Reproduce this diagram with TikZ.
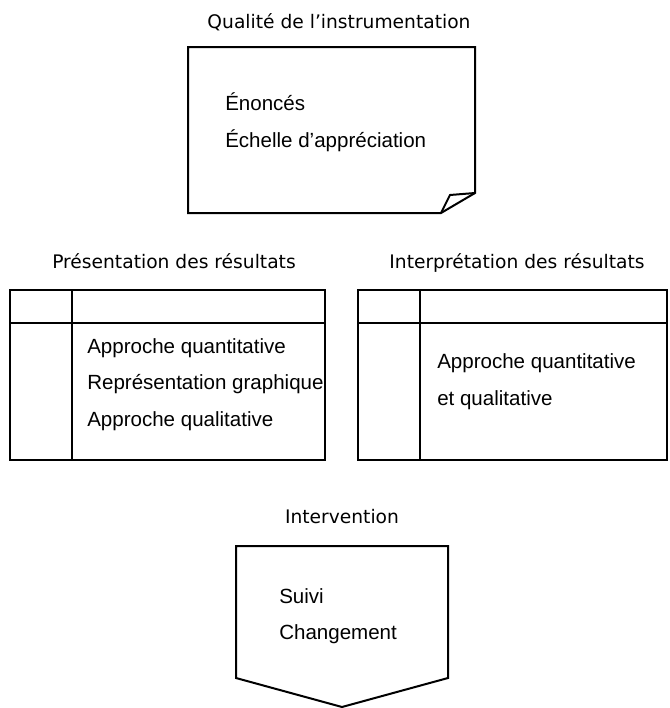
\documentclass[tikz,border=0pt]{standalone}
\usepackage{fontspec}
\setmainfont{Liberation Sans}
\newfontfamily\titlefont{DejaVu Sans}

\begin{document}
\begin{tikzpicture}[x=0.75pt,y=-0.75pt,
	frame/.style={line width=1.5pt,line join=miter},
	heading/.style={font=\titlefont\fontsize{14}{16}\selectfont,anchor=base},
	entry/.style={font=\fontsize{15.4}{18}\selectfont,anchor=base west,inner sep=0}]
	\useasboundingbox (0,0) rectangle (669,708);
	% note
	\node[heading] (qt) at (339,28) {Qualité de l’instrumentation};
	\draw[frame] (188,47) -- (475,47) -- (475,193) -- (441,213) -- (188,213) -- cycle;
	\draw[frame] (475,193) -- (450,195) -- (441,213);
	\node[entry] (q1) at (225,110) {Énoncés};
	\node[entry] (q2) at (225,147) {Échelle d’appréciation};
	% left table
	\node[heading] (pt) at (174,268) {Présentation des résultats};
	\draw[frame] (10,290) rectangle (325,460);
	\draw[frame] (72,290) -- (72,460);
	\draw[frame] (10,323) -- (325,323);
	\node[entry] (p1) at (87,353) {Approche quantitative};
	\node[entry] (p2) at (87,389) {Représentation graphique};
	\node[entry] (p3) at (87,426) {Approche qualitative};
	% right table
	\node[heading] (it) at (517,268) {Interprétation des résultats};
	\draw[frame] (358,290) rectangle (667,460);
	\draw[frame] (420,290) -- (420,460);
	\draw[frame] (358,323) -- (667,323);
	\node[entry] (i1) at (437,368) {Approche quantitative};
	\node[entry] (i2) at (437,405) {et qualitative};
	% pentagon
	\node[heading] (vt) at (342,523) {Intervention};
	\draw[frame] (236,546) -- (448,546) -- (448,678) -- (342,707) -- (236,678) -- cycle;
	\node[entry] (v1) at (279,603) {Suivi};
	\node[entry] (v2) at (279,639) {Changement};
\end{tikzpicture}
\end{document}
